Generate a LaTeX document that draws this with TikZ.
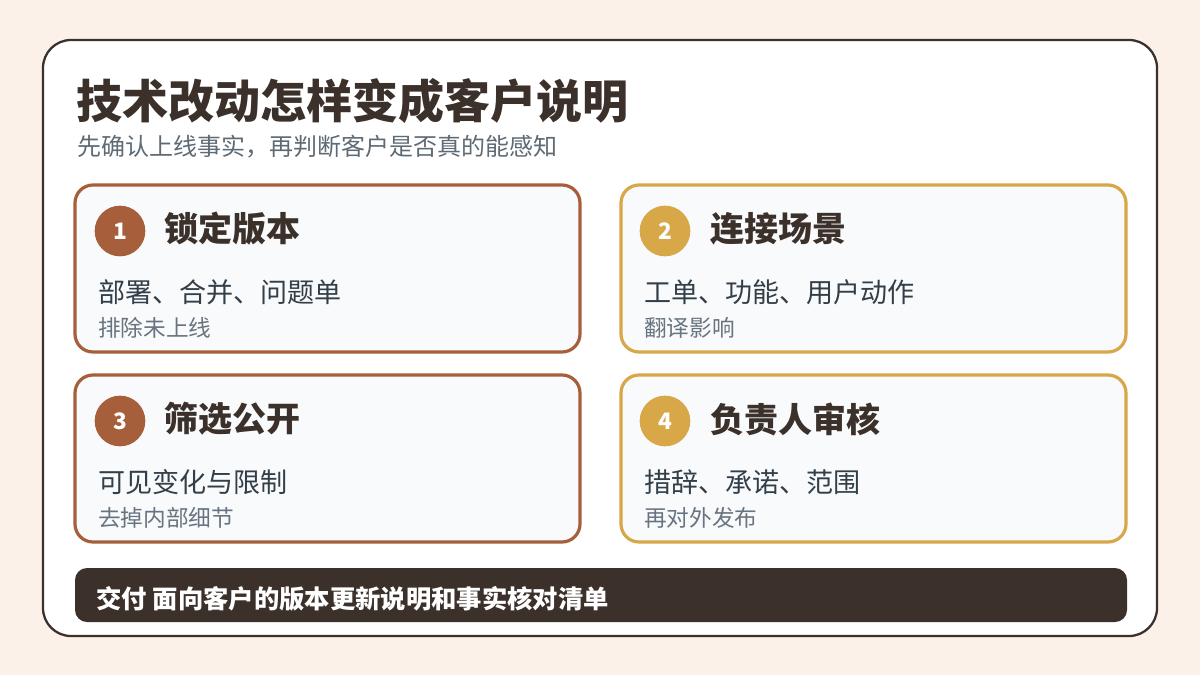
\documentclass[tikz,border=0pt]{standalone}
\usepackage{fontspec}
\setmainfont{Noto Sans CJK SC}
\newfontfamily\cjk{Noto Sans CJK SC}
\definecolor{bgc}{HTML}{FBF1E9}
\definecolor{darkc}{HTML}{3B302A}
\definecolor{brownc}{HTML}{A65F3A}
\definecolor{goldc}{HTML}{D8A748}
\definecolor{cardfill}{HTML}{F8FAFC}
\definecolor{line1c}{HTML}{333F48}
\definecolor{line2c}{HTML}{687480}
\definecolor{subc}{HTML}{5E6A74}
\begin{document}
\begin{tikzpicture}[x=0.75pt,y=-0.75pt,
  card/.style={draw=#1, line width=2.4pt, fill=cardfill, rounded corners=13.5pt,
    minimum width=378.75pt, minimum height=125.25pt, inner sep=0pt},
  numdot/.style={circle, fill=#1, minimum size=38pt, inner sep=0pt, text=white,
    font=\cjk\bfseries\fontsize{17}{17}\selectfont},
  headtxt/.style={anchor=west, inner sep=0pt, text=darkc, font=\cjk\bfseries\fontsize{25.5}{26}\selectfont},
  onetxt/.style={anchor=west, inner sep=0pt, text=line1c, font=\cjk\fontsize{20.3}{21}\selectfont},
  twotxt/.style={anchor=west, inner sep=0pt, text=line2c, font=\cjk\fontsize{17}{18}\selectfont}]
\useasboundingbox (0,0) rectangle (1200,675);
\fill[bgc] (0,0) rectangle (1200,675);
\draw[darkc, line width=1.7pt, fill=white, rounded corners=21pt] (43,40) rectangle (1157,636);
% title
\node[anchor=west, inner sep=0pt, text=darkc, font=\cjk\bfseries\fontsize{34.5}{36}\selectfont] (title) at (76,101) {技术改动怎样变成客户说明};
\node[anchor=west, inner sep=0pt, text=subc, font=\cjk\fontsize{18}{19}\selectfont] (sub) at (77,147) {先确认上线事实，再判断客户是否真的能感知};
% cards
\node[card=brownc] (c1) at (327.5,268.5) {};
\node[card=goldc] (c2) at (873.5,268.5) {};
\node[card=brownc] (c3) at (327.5,458.5) {};
\node[card=goldc] (c4) at (873.5,458.5) {};
% card 1
\node[numdot=brownc] (n1) at (120,231) {1};
\node[headtxt] (h1) at (164,229) {锁定版本};
\node[onetxt] (a1) at (98,292) {部署、合并、问题单};
\node[twotxt] (b1) at (98,328) {排除未上线};
% card 2
\node[numdot=goldc] (n2) at (665,231) {2};
\node[headtxt] (h2) at (710,229) {连接场景};
\node[onetxt] (a2) at (644,292) {工单、功能、用户动作};
\node[twotxt] (b2) at (644,328) {翻译影响};
% card 3
\node[numdot=brownc] (n3) at (120,421) {3};
\node[headtxt] (h3) at (164,419) {筛选公开};
\node[onetxt] (a3) at (98,482) {可见变化与限制};
\node[twotxt] (b3) at (98,518) {去掉内部细节};
% card 4
\node[numdot=goldc] (n4) at (665,421) {4};
\node[headtxt] (h4) at (710,419) {负责人审核};
\node[onetxt] (a4) at (644,482) {措辞、承诺、范围};
\node[twotxt] (b4) at (644,518) {再对外发布};
% bottom bar
\node[fill=darkc, rounded corners=9pt, minimum width=789pt, minimum height=40.5pt, inner sep=0pt] (bar) at (601,595) {};
\node[anchor=west, inner sep=0pt, text=white, font=\cjk\bfseries\fontsize{19}{20}\selectfont] (bartxt) at (96,599) {交付 面向客户的版本更新说明和事实核对清单};
\end{tikzpicture}
\end{document}
